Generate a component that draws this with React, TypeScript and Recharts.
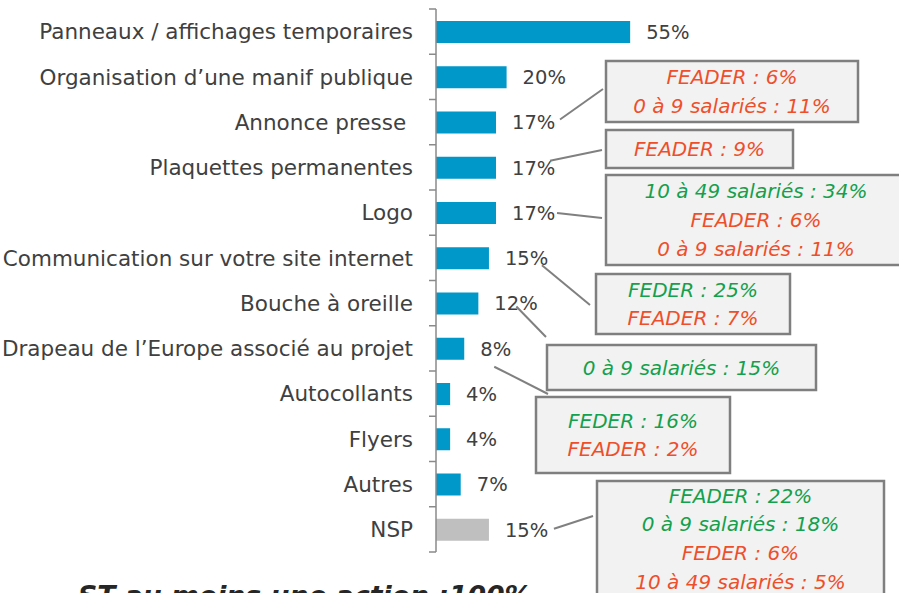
import React from 'react';
import { BarChart, Bar, XAxis, YAxis, Cell, LabelList } from 'recharts';

const categories = [
  'Panneaux / affichages temporaires',
  'Organisation d\u2019une manif publique',
  'Annonce presse\u00A0',
  'Plaquettes permanentes',
  'Logo',
  'Communication sur votre site internet',
  'Bouche à oreille',
  'Drapeau de l\u2019Europe associé au projet',
  'Autocollants',
  'Flyers',
  'Autres',
  'NSP',
];
const values = [55, 20, 17, 17, 17, 15, 12, 8, 4, 4, 7, 15];
const barColors = ['b', 'b', 'b', 'b', 'b', 'b', 'b', 'b', 'b', 'b', 'b', 'g'];

const calloutCategories = [
  'Annonce presse\u00A0',
  'Plaquettes permanentes',
  'Logo',
  'Communication sur votre site internet',
  'Bouche à oreille',
  'Drapeau de l\u2019Europe associé au projet',
  'NSP',
];
const calloutLines = [
  ['FEADER : 6%', '0 à 9 salariés : 11%'],
  ['FEADER : 9%'],
  ['10 à 49 salariés : 34%', 'FEADER : 6%', '0 à 9 salariés : 11%'],
  ['FEDER : 25%', 'FEADER : 7%'],
  ['0 à 9 salariés : 15%'],
  ['FEDER : 16%', 'FEADER : 2%'],
  ['FEADER : 22%', '0 à 9 salariés : 18%', 'FEDER : 6%', '10 à 49 salariés : 5%'],
];
const calloutLineColors = [
  ['r', 'r'],
  ['r'],
  ['g', 'r', 'r'],
  ['g', 'r'],
  ['g'],
  ['g', 'r'],
  ['g', 'g', 'r', 'r'],
];
const footnote = 'ST au moins une action :100%';

// layout (positions/sizes only)
const W = 899;
const H = 593;
const MARGIN = { top: 9, right: 110, bottom: 41, left: 0 };
const AXIS_W = 436;
const TICK_GAP = 23;
const calloutLayout = [
  { x: 606, y: 61, w: 252, h: 61, sdx: 64, sdy: -3, ex: 603, ey: 89 },
  { x: 606, y: 130, w: 187, h: 38, sdx: 54, sdy: -7, ex: 602, ey: 150 },
  { x: 606, y: 175, w: 300, h: 90, sdx: 61, sdy: 0, ex: 602, ey: 218 },
  { x: 596, y: 274, w: 194, h: 60, sdx: 53, sdy: 7, ex: 590, ey: 305 },
  { x: 547, y: 345, w: 269, h: 45, sdx: 38, sdy: 3, ex: 546, ey: 337 },
  { x: 536, y: 397, w: 194, h: 76, sdx: 30, sdy: 18, ex: 548, ey: 394 },
  { x: 597, y: 481, w: 287, h: 115, sdx: 65, sdy: -1, ex: 593, ey: 516 },
];

const COLORS: Record<string, string> = {
  b: '#0097C9',
  g: '#BFBFBF',
};
const TEXT_COLORS: Record<string, string> = {
  g: '#14A04C',
  r: '#EE4F2A',
};
const AXIS_COLOR = '#8A8A8A';
const FONT = '"DejaVu Sans", sans-serif';

const data = categories.map((name, i) => ({ name, value: values[i], c: barColors[i] }));

const HALF_BAND = (H - MARGIN.top - MARGIN.bottom) / categories.length / 2;

const CategoryTick = (props: any) => {
  const { x, y, payload, index } = props;
  const ax = Number(x) + TICK_GAP;
  const cy = Number(y);
  const last = index === categories.length - 1;
  return (
    <g>
      <line x1={ax - 7} y1={cy - HALF_BAND} x2={ax} y2={cy - HALF_BAND} stroke={AXIS_COLOR} strokeWidth={1.5} />
      {last ? (
        <line x1={ax - 7} y1={cy + HALF_BAND} x2={ax} y2={cy + HALF_BAND} stroke={AXIS_COLOR} strokeWidth={1.5} />
      ) : null}
      <text x={x} y={cy} dy="0.355em" textAnchor="end" fill="#404040" fontSize={21.5} fontFamily={FONT}>
        {payload.value}
      </text>
    </g>
  );
};

const renderValue = (props: any) => {
  const { x, y, width, height, value } = props;
  return (
    <text
      x={Number(x) + Number(width) + 16}
      y={Number(y) + Number(height) / 2}
      dy="0.355em"
      fill="#404040"
      fontSize={19.5}
      fontFamily={FONT}
    >
      {value}%
    </text>
  );
};

const renderCallout = (props: any) => {
  const { x, y, width, height, value } = props;
  const i = calloutCategories.indexOf(value);
  if (i < 0) return null;
  const b = calloutLayout[i];
  const lines = calloutLines[i];
  const cols = calloutLineColors[i];
  const sx = Number(x) + Number(width) + b.sdx;
  const sy = Number(y) + Number(height) / 2 + b.sdy;
  const cx = b.x + b.w / 2;
  const cy = b.y + b.h / 2;
  return (
    <g>
      <line x1={sx} y1={sy} x2={b.ex} y2={b.ey} stroke="#808080" strokeWidth={2} />
      <rect x={b.x} y={b.y} width={b.w} height={b.h} fill="#F2F2F2" stroke="#7F7F7F" strokeWidth={2.5} />
      {lines.map((t, j) => (
        <text
          key={j}
          x={cx}
          y={cy + (j - (lines.length - 1) / 2) * 28.7}
          dy="0.355em"
          textAnchor="middle"
          fontStyle="italic"
          fontSize={20}
          fontFamily={FONT}
          fill={TEXT_COLORS[cols[j]]}
        >
          {t}
        </text>
      ))}
    </g>
  );
};

export default function App() {
  return (
    <div style={{ position: 'absolute', left: 0, top: 0, width: W, height: H, overflow: 'hidden', background: '#fff' }}>
      <BarChart width={W} height={H} data={data} layout="vertical" margin={MARGIN}>
        <XAxis type="number" domain={[0, 100]} hide />
        <YAxis
          type="category"
          dataKey="name"
          width={AXIS_W}
          axisLine={{ stroke: AXIS_COLOR, strokeWidth: 1.5 }}
          tickLine={false}
          tickSize={0}
          tickMargin={TICK_GAP}
          interval={0}
          tick={CategoryTick}
        />
        <Bar dataKey="value" barSize={22} isAnimationActive={false}>
          {data.map((d, i) => (
            <Cell key={i} fill={COLORS[d.c]} />
          ))}
          <LabelList dataKey="value" content={renderValue} />
          <LabelList dataKey="name" content={renderCallout} />
        </Bar>
      </BarChart>
      <div
        style={{
          position: 'absolute',
          left: 78,
          top: 581,
          fontFamily: FONT,
          fontWeight: 'bold',
          fontStyle: 'italic',
          fontSize: 26.7,
          lineHeight: '30px',
          color: '#262626',
          whiteSpace: 'nowrap',
        }}
      >
        {footnote}
      </div>
    </div>
  );
}
